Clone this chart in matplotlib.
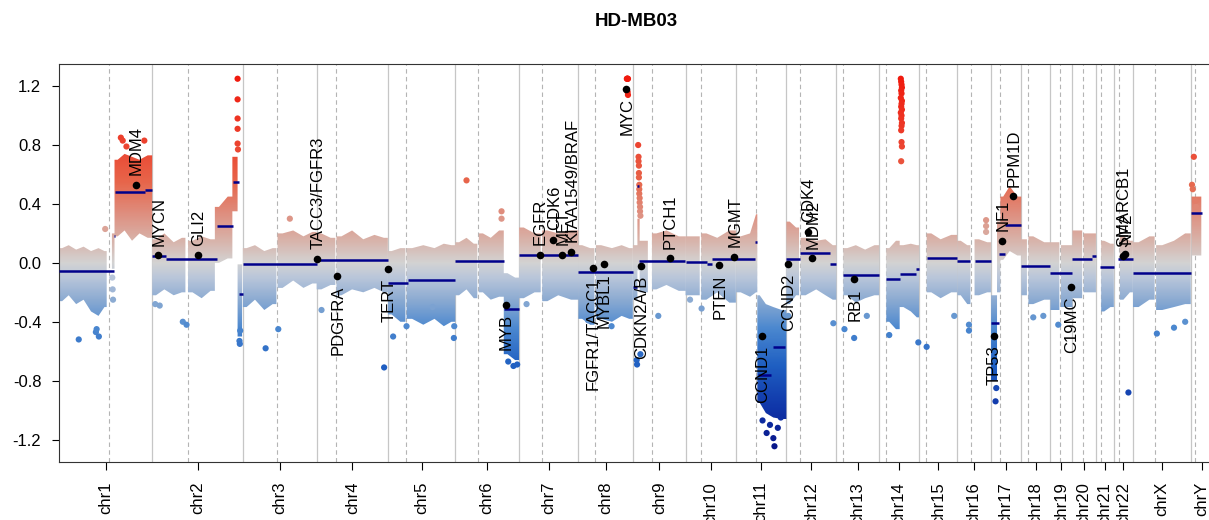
import numpy as np
import matplotlib
matplotlib.use("Agg")
import matplotlib.pyplot as plt
from matplotlib.colors import LinearSegmentedColormap, Normalize
from matplotlib.path import Path
from matplotlib.patches import PathPatch

plt.rcParams['font.family'] = ['Liberation Sans', 'DejaVu Sans']

# chromosomes (hg19, Mb) and centromere positions
chroms = ["chr1", "chr2", "chr3", "chr4", "chr5", "chr6", "chr7", "chr8", "chr9", "chr10",
          "chr11", "chr12", "chr13", "chr14", "chr15", "chr16", "chr17", "chr18", "chr19",
          "chr20", "chr21", "chr22", "chrX", "chrY"]
chrom_len = [249.25, 243.20, 198.02, 191.15, 180.92, 171.12, 159.14, 146.36, 141.21, 135.53,
             135.01, 133.85, 115.17, 107.35, 102.53, 90.35, 81.20, 78.08, 59.13, 63.03,
             48.13, 51.30, 155.27, 59.37]
centromere = [133.0, 95.0, 92.3, 51.8, 48.5, 61.7, 60.6, 45.3, 50.4, 40.6, 52.7, 36.6,
              17.2, 17.4, 18.3, 35.6, 24.1, 17.1, 25.8, 29.2, 13.6, 14.7, 59.1, 11.2]

# dense probe cloud per chromosome: blocks (start, end in Mb) with lower / upper log2 ratio
cloud_start = [
    [0, 15, 35, 55, 75, 95, 115, 141, 148, 165, 185, 205, 225],
    [0, 20, 45, 70, 96, 120, 145, 168, 190, 215, 229],
    [0, 20, 45, 70, 93, 120, 150, 175],
    [0, 25, 53, 80, 110, 140, 170],
    [0, 20, 50, 80, 110, 140, 160],
    [0, 20, 40, 63, 85, 105, 130, 150],
    [0, 25, 62, 90, 120],
    [0, 20, 47, 75, 105, 127],
    [0, 12, 18, 51, 75, 105],
    [0, 42, 70, 100],
    [0, 25, 50, 57, 70, 90, 110],
    [0, 18, 38, 65, 95, 115],
    [19, 40, 65, 90],
    [19, 35, 55, 75, 95],
    [20, 45, 70],
    [0, 18, 46, 70],
    [0, 16, 25, 40, 60],
    [0, 19, 45],
    [0, 28],
    [0, 30],
    [14, 30],
    [16, 35],
    [0, 30, 62, 95, 125],
    [2],
]
cloud_end = [
    [15, 35, 55, 75, 95, 115, 127, 148, 165, 185, 205, 225, 249],
    [20, 45, 70, 89, 120, 145, 168, 190, 215, 229, 241],
    [20, 45, 70, 90, 120, 150, 175, 198],
    [25, 50, 80, 110, 140, 170, 191],
    [20, 47, 80, 110, 140, 160, 181],
    [20, 40, 59, 85, 105, 130, 150, 171],
    [25, 58, 90, 120, 159],
    [20, 43, 75, 105, 127, 146],
    [12, 18, 40, 75, 105, 141],
    [38, 70, 100, 135],
    [25, 50, 57, 70, 90, 110, 135],
    [18, 34, 65, 95, 115, 134],
    [40, 65, 90, 115],
    [35, 55, 75, 95, 107],
    [45, 70, 102],
    [18, 35, 70, 90],
    [16, 25, 40, 60, 81],
    [15, 45, 78],
    [24, 59],
    [26, 63],
    [30, 48],
    [35, 51],
    [30, 58, 95, 125, 155],
    [28],
]
cloud_lo = [
    [-0.26, -0.22, -0.28, -0.25, -0.33, -0.36, -0.30, -0.04, 0.18, 0.22, 0.15, 0.20, 0.17],
    [-0.22, -0.18, -0.22, -0.20, -0.20, -0.24, -0.19, 0.00, 0.03, 0.35, -0.50],
    [-0.30, -0.25, -0.32, -0.28, -0.17, -0.12, -0.17, -0.14],
    [-0.18, -0.15, -0.22, -0.18, -0.20, -0.17, -0.20],
    [-0.35, -0.40, -0.38, -0.42, -0.38, -0.43, -0.40],
    [-0.22, -0.18, -0.24, -0.20, -0.25, -0.23, -0.62, -0.66],
    [-0.24, -0.20, -0.26, -0.22, -0.25],
    [-0.38, -0.42, -0.38, -0.40, -0.36, -0.38],
    [-0.25, -0.05, -0.20, -0.18, -0.15, -0.19],
    [-0.22, -0.25, -0.20, -0.27],
    [-0.20, -0.23, -0.20, -0.95, -1.02, -1.05, -1.06],
    [-0.28, -0.22, -0.22, -0.18, -0.22, -0.25],
    [-0.22, -0.27, -0.24, -0.22],
    [-0.40, -0.45, -0.30, -0.33, -0.37],
    [-0.20, -0.24, -0.20],
    [-0.22, -0.28, -0.22, -0.20],
    [-0.80, -0.20, 0.02, 0.08, 0.05],
    [-0.22, -0.28, -0.25],
    [-0.32, -0.30],
    [-0.24, -0.20],
    [-0.33, -0.30],
    [-0.25, -0.20],
    [-0.30, -0.25, -0.32, -0.30, -0.28],
    [0.05],
]
cloud_hi = [
    [0.10, 0.12, 0.09, 0.11, 0.08, 0.10, 0.08, 0.20, 0.70, 0.74, 0.72, 0.70, 0.73],
    [0.16, 0.20, 0.14, 0.17, 0.15, 0.18, 0.16, 0.38, 0.45, 0.72, -0.01],
    [0.10, 0.12, 0.08, 0.10, 0.20, 0.22, 0.18, 0.21],
    [0.20, 0.17, 0.18, 0.22, 0.16, 0.19, 0.17],
    [0.08, 0.10, 0.10, 0.12, 0.10, 0.13, 0.12],
    [0.14, 0.17, 0.13, 0.20, 0.17, 0.22, -0.07, -0.10],
    [0.24, 0.20, 0.22, 0.20, 0.22],
    [0.12, 0.10, 0.12, 0.10, 0.12, 0.10],
    [0.12, 0.30, 0.15, 0.20, 0.22, 0.18],
    [0.18, 0.20, 0.17, 0.22],
    [0.18, 0.20, 0.33, -0.22, -0.28, -0.30, -0.32],
    [0.28, 0.24, 0.17, 0.15, 0.16, 0.12],
    [0.10, 0.12, 0.09, 0.12],
    [0.10, 0.15, 0.12, 0.13, 0.12],
    [0.20, 0.16, 0.19],
    [0.15, 0.12, 0.16, 0.14],
    [-0.22, 0.28, 0.45, 0.52, 0.45],
    [0.16, 0.18, 0.14],
    [0.14, 0.12],
    [0.22, 0.20],
    [0.15, 0.13],
    [0.18, 0.15],
    [0.14, 0.18, 0.12, 0.15, 0.20],
    [0.45],
]

# single probes outside the dense cloud
out_chr = ["chr1", "chr1", "chr1", "chr1", "chr1", "chr1", "chr1", "chr1", "chr1", "chr1", "chr1", "chr1",
           "chr2", "chr2", "chr2", "chr2", "chr2", "chr2", "chr2", "chr2", "chr2", "chr2", "chr2", "chr2", "chr2",
           "chr3", "chr3", "chr3", "chr4", "chr4", "chr5", "chr5", "chr5", "chr5", "chr5",
           "chr6", "chr6", "chr6", "chr6", "chr6", "chr6", "chr7", "chr8", "chr8",
           "chr8", "chr8", "chr8", "chr8", "chr8", "chr8",
           "chr9", "chr9", "chr9", "chr9", "chr9", "chr9", "chr9", "chr9", "chr9", "chr9", "chr9", "chr9",
           "chr9", "chr9", "chr9", "chr9", "chr9", "chr9",
           "chr10", "chr10", "chr11", "chr11", "chr11", "chr11", "chr11", "chr11", "chr11",
           "chr12", "chr12", "chr13", "chr13", "chr13",
           "chr14", "chr14", "chr14", "chr14", "chr14", "chr14", "chr14", "chr14", "chr14", "chr14", "chr14",
           "chr14", "chr14", "chr14", "chr14", "chr14", "chr14", "chr14", "chr14", "chr14", "chr14", "chr14",
           "chr15", "chr15", "chr16", "chr16", "chr16", "chr16", "chr16", "chr17", "chr17",
           "chr18", "chr18", "chr19", "chr22", "chrX", "chrX", "chrX",
           "chrY", "chrY", "chrY", "chrY", "chrY"]
out_pos = [52, 98, 100, 106, 123, 142, 143, 144, 165, 170, 180, 228,
           8, 20, 82, 92, 229, 229, 229, 229, 229, 230, 234, 235, 236,
           61, 95, 126, 13, 181, 14, 50, 120, 177, 178,
           30, 124, 124, 142, 156, 166, 20, 26, 89,
           130, 131, 132, 133, 132, 133,
           10, 11, 14, 15, 15, 16, 16, 16, 17, 17, 17, 18,
           18, 19, 19, 20, 20, 68,
           12, 43, 71, 82, 91, 100, 103, 112, 120,
           5, 126, 22, 48, 82,
           27, 105, 58, 59, 60, 61, 59, 60, 58, 61, 60,
           59, 61, 58, 60, 59, 61, 60, 59, 60, 61, 59,
           20, 94, 31, 31, 77, 77, 77, 12, 14,
           32, 59, 21, 39, 64, 110, 140,
           3, 5, 8, 12, 14]
out_val = [-0.52, -0.47, -0.45, -0.50, 0.23, -0.10, -0.18, -0.25, 0.85, 0.83, 0.79, 0.83,
           -0.28, -0.29, -0.40, -0.42, 1.25, 1.11, 0.98, 0.91, 0.81, 0.77, -0.53, -0.55, -0.46,
           -0.58, -0.45, 0.30, -0.32, -0.71, -0.50, -0.43, -0.30, -0.51, -0.43,
           0.56, 0.35, 0.30, -0.67, -0.70, -0.69, -0.28, -0.39, -0.43,
           1.25, 1.25, 1.25, 1.25, 1.16, 1.14,
           -0.66, -0.69, 0.80, 0.72, 0.69, 0.66, 0.61, 0.58, 0.53, 0.50, 0.47, 0.44,
           0.41, 0.38, 0.35, 0.32, -0.62, -0.36,
           -0.25, -0.31, -1.07, -1.155, -1.10, -1.19, -1.245, -1.12, -1.05,
           -0.36, -0.41, -0.45, -0.51, -0.36,
           -0.49, -0.54, 1.25, 1.23, 1.21, 1.19, 1.17, 1.15, 1.12, 1.10, 1.08,
           1.06, 1.04, 1.02, 1.00, 0.98, 0.95, 0.93, 0.90, 0.82, 0.79, 0.69,
           -0.57, -0.36, -0.42, -0.46, 0.29, 0.25, 0.21, -0.94, -0.85,
           -0.37, -0.36, -0.42, -0.88, -0.48, -0.44, -0.40,
           0.53, 0.50, 0.72, 0.42, 0.38]

# segmentation
seg_chr = ["chr1", "chr1", "chr1", "chr1", "chr2", "chr2", "chr2", "chr2", "chr2",
           "chr3", "chr4", "chr5", "chr5", "chr6", "chr6", "chr7", "chr8",
           "chr9", "chr9", "chr9", "chr10", "chr10", "chr10",
           "chr11", "chr11", "chr11", "chr11", "chr12", "chr12", "chr12", "chr13",
           "chr14", "chr14", "chr14", "chr15", "chr16", "chr16", "chr17", "chr17", "chr17",
           "chr18", "chr19", "chr20", "chr20", "chr21", "chr22", "chrX", "chrY"]
seg_start = [0, 147, 150, 230, 0, 37, 174, 217, 232,
             0, 0, 0, 53, 0, 130.5, 0, 0,
             0, 12, 17, 0, 57, 70,
             0, 52, 60, 100, 0, 37, 118, 19,
             19, 57, 98, 20, 0, 46, 0, 21, 38,
             0, 0, 0, 52, 11, 10, 0, 0]
seg_end = [147, 150, 230, 249, 37, 174, 217, 232, 243,
           198, 191, 53, 181, 130.5, 171, 159, 146,
           12, 17, 141, 57, 70, 135,
           52, 56, 95, 130, 37, 118, 134, 115,
           57, 98, 107, 102, 35, 90, 20, 38, 81,
           78, 59, 52, 63, 48, 51, 155, 29]
seg_val = [-0.057, 0.18, 0.48, 0.496, 0.045, 0.029, 0.247, 0.55, -0.21,
           -0.005, 0.018, -0.14, -0.118, 0.016, -0.31, 0.052, -0.061,
           -0.166, 0.52, 0.016, 0.004, -0.005, 0.027,
           0.027, 0.145, -0.76, -0.57, 0.027, 0.068, -0.005, -0.08,
           -0.109, -0.073, -0.04, 0.034, 0.011, 0.016, -0.41, 0.063, 0.255,
           -0.023, -0.068, 0.027, 0.045, -0.03, 0.027, -0.068, 0.34]

# annotated genes
gene_name = ["MDM4", "MYCN", "GLI2", "TACC3/FGFR3", "PDGFRA", "TERT", "MYB", "EGFR", "CDK6", "MET",
             "KIAA1549/BRAF", "FGFR1/TACC1", "MYBL1", "MYC", "CDKN2A/B", "PTCH1", "PTEN", "MGMT",
             "CCND1", "CCND2", "CDK4", "MDM2", "RB1", "TP53", "NF1", "PPM1D", "C19MC", "SMARCB1", "NF2"]
gene_chr = ["chr1", "chr2", "chr2", "chr4", "chr4", "chr5", "chr6", "chr7", "chr7", "chr7",
            "chr7", "chr8", "chr8", "chr8", "chr9", "chr9", "chr10", "chr10",
            "chr11", "chr12", "chr12", "chr12", "chr13", "chr17", "chr17", "chr17", "chr19", "chr22", "chr22"]
gene_pos = [204.5, 16.1, 121.6, 1.8, 55.1, 1.3, 135.5, 55.2, 92.3, 116.3,
            140.5, 38.3, 67.5, 128.7, 22.0, 98.2, 89.6, 131.3,
            69.5, 4.4, 58.1, 69.2, 48.9, 7.6, 29.5, 58.7, 54.2, 24.1, 29.9]
gene_val = [0.53, 0.05, 0.05, 0.027, -0.086, -0.04, -0.283, 0.056, 0.158, 0.056,
            0.075, -0.036, -0.005, 1.182, -0.018, 0.031, -0.014, 0.041,
            -0.494, -0.009, 0.21, 0.031, -0.109, -0.494, 0.151, 0.452, -0.163, 0.045, 0.06]

offset = dict(zip(chroms, np.concatenate([[0], np.cumsum(chrom_len)[:-1]])))
total = float(np.sum(chrom_len))

# colour ramp: blue - lightgrey - red
ramp_v = [-1.25, -1.0, -0.7, -0.45, -0.25, -0.1, 0.0, 0.15, 0.35, 0.55, 0.8, 1.25]
ramp_c = ["#08168a", "#0f34a8", "#1f5fc2", "#4a87cf", "#8cabd2", "#b9c6da", "#d3d3d3",
          "#d8b4ab", "#df8c7c", "#e7664b", "#ec4430", "#f01a0e"]
lo_v, hi_v = -1.25, 1.25
cmap = LinearSegmentedColormap.from_list(
    "cn", [((v - lo_v) / (hi_v - lo_v), c) for v, c in zip(ramp_v, ramp_c)])
norm = Normalize(lo_v, hi_v)

fig = plt.figure(figsize=(12.09, 5.2), dpi=100)
ax = fig.add_axes([0.0491, 0.1121, 0.9542, 0.7648])
ax.set_xlim(0, total)
ax.set_ylim(-1.35, 1.35)

# chromosome borders and centromeres
for c, L, cen in zip(chroms, chrom_len, centromere):
    if c != "chr1":
        ax.axvline(offset[c], color="#c6c6c6", lw=0.9, zorder=1)
    ax.axvline(offset[c] + cen, color="#b4b4b4", lw=0.8, ls=(0, (4, 3)), zorder=1)

# probe cloud: smooth outline inside a run of similar blocks, hard steps at copy-number changes
verts, codes = [], []
for c, st, en, lo, hi in zip(chroms, cloud_start, cloud_end, cloud_lo, cloud_hi):
    runs, cur = [], [0]
    for i in range(1, len(st)):
        if st[i] == en[i - 1] and abs(lo[i] - lo[i - 1]) < 0.15 and abs(hi[i] - hi[i - 1]) < 0.15:
            cur.append(i)
        else:
            runs.append(cur)
            cur = [i]
    runs.append(cur)
    for r in runs:
        xs = [st[r[0]]] + [(st[i] + en[i]) / 2 for i in r] + [en[r[-1]]]
        ys_hi = [hi[r[0]]] + [hi[i] for i in r] + [hi[r[-1]]]
        ys_lo = [lo[r[0]]] + [lo[i] for i in r] + [lo[r[-1]]]
        xs = [offset[c] + x for x in xs]
        poly = list(zip(xs, ys_lo)) + list(zip(xs[::-1], ys_hi[::-1])) + [(xs[0], ys_lo[0])]
        verts += poly
        codes += [Path.MOVETO] + [Path.LINETO] * (len(poly) - 2) + [Path.CLOSEPOLY]
clip = PathPatch(Path(verts, codes), transform=ax.transData, fc="none", ec="none")
ax.add_patch(clip)
ramp = np.linspace(-1.35, 1.35, 600).reshape(-1, 1)
im = ax.imshow(ramp, extent=[0, total, -1.35, 1.35], origin="lower", aspect="auto",
               cmap=cmap, norm=norm, zorder=2, interpolation="bilinear")
im.set_clip_path(clip)

ox = [offset[c] + p for c, p in zip(out_chr, out_pos)]
ax.scatter(ox, out_val, c=out_val, cmap=cmap, norm=norm, s=20, lw=0, zorder=3)

# segments
for c, s, e, v in zip(seg_chr, seg_start, seg_end, seg_val):
    ax.plot([offset[c] + s, offset[c] + e], [v, v], color="#00008b", lw=1.8,
            solid_capstyle="butt", zorder=4)

# genes
gx = [offset[c] + p for c, p in zip(gene_chr, gene_pos)]
ax.scatter(gx, gene_val, color="black", s=30, lw=0, zorder=5)
for name, x, v in zip(gene_name, gx, gene_val):
    below = v < 0 or v > 1
    ax.annotate(name, (x, v), xytext=(0.5, -7 if below else 7), textcoords="offset points",
                rotation=90, ha="center", va="top" if below else "bottom",
                fontsize=12, zorder=6)

# axes styling
ax.set_xticks([offset[c] + L / 2 for c, L in zip(chroms, chrom_len)])
ax.set_xticklabels(chroms, rotation=90, fontsize=12)
ax.set_yticks([-1.2, -0.8, -0.4, 0.0, 0.4, 0.8, 1.2])
ax.set_yticklabels(["-1.2", "-0.8", "-0.4", "0.0", "0.4", "0.8", "1.2"], fontsize=12)
ax.tick_params(axis="x", length=5.5, pad=9, width=0.8)
ax.tick_params(axis="y", length=5, pad=8, width=0.8)
for sp in ax.spines.values():
    sp.set_linewidth(0.8)
    sp.set_color("#333333")

fig.text(636 / 1209, 1 - 22 / 520, "HD-MB03", ha="center", va="center",
         fontsize=13.5, fontweight="bold")

fig.savefig("out.png", dpi=100)
